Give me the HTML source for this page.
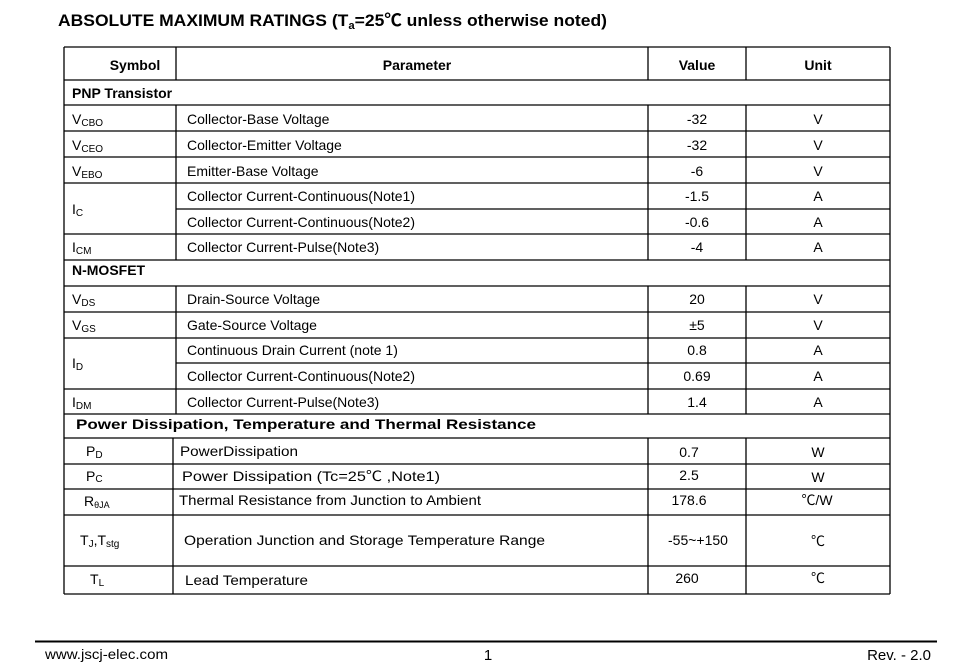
<!DOCTYPE html>
<html><head><meta charset="utf-8"><style>
html,body{margin:0;padding:0;background:#fff;width:968px;height:663px;overflow:hidden}
svg{display:block}
text{font-family:"Liberation Sans","Noto Sans CJK SC",sans-serif;fill:#000}
.b{font-weight:bold}
</style></head><body>
<svg width="968" height="663" viewBox="0 0 968 663" xmlns="http://www.w3.org/2000/svg">
<rect width="968" height="663" fill="#fff"/>
<text x="58" y="26" class="b" font-size="17" textLength="549" lengthAdjust="spacingAndGlyphs">ABSOLUTE MAXIMUM RATINGS (T<tspan font-size="11" dy="3">a</tspan><tspan dy="-3">=25℃ unless otherwise noted)</tspan></text>

<g stroke="#000" stroke-width="1.3" fill="none">
<line x1="64" y1="47" x2="890" y2="47"/>
<line x1="64" y1="47" x2="64" y2="594"/>
<line x1="890" y1="47" x2="890" y2="594"/>
<line x1="64" y1="80" x2="890" y2="80"/>
<line x1="64" y1="105" x2="890" y2="105"/>
<line x1="64" y1="131" x2="890" y2="131"/>
<line x1="64" y1="157" x2="890" y2="157"/>
<line x1="64" y1="183" x2="890" y2="183"/>
<line x1="176" y1="209" x2="890" y2="209"/>
<line x1="64" y1="234" x2="890" y2="234"/>
<line x1="64" y1="260" x2="890" y2="260"/>
<line x1="64" y1="286" x2="890" y2="286"/>
<line x1="64" y1="312" x2="890" y2="312"/>
<line x1="64" y1="338" x2="890" y2="338"/>
<line x1="176" y1="363" x2="890" y2="363"/>
<line x1="64" y1="389" x2="890" y2="389"/>
<line x1="64" y1="414" x2="890" y2="414"/>
<line x1="176" y1="47" x2="176" y2="80"/>
<line x1="648" y1="47" x2="648" y2="80"/>
<line x1="746" y1="47" x2="746" y2="80"/>
<line x1="176" y1="105" x2="176" y2="260"/>
<line x1="648" y1="105" x2="648" y2="260"/>
<line x1="746" y1="105" x2="746" y2="260"/>
<line x1="176" y1="286" x2="176" y2="414"/>
<line x1="648" y1="286" x2="648" y2="414"/>
<line x1="746" y1="286" x2="746" y2="414"/>
<line x1="64" y1="438" x2="890" y2="438"/>
<line x1="64" y1="464" x2="890" y2="464"/>
<line x1="64" y1="489" x2="890" y2="489"/>
<line x1="64" y1="515" x2="890" y2="515"/>
<line x1="64" y1="566" x2="890" y2="566"/>
<line x1="64" y1="594" x2="890" y2="594"/>
<line x1="173" y1="438" x2="173" y2="594"/>
<line x1="648" y1="438" x2="648" y2="594"/>
<line x1="746" y1="438" x2="746" y2="594"/>
</g>

<g font-size="14">
<text x="135" y="70" class="b" text-anchor="middle">Symbol</text>
<text x="417" y="70" class="b" text-anchor="middle">Parameter</text>
<text x="697" y="70" class="b" text-anchor="middle">Value</text>
<text x="818" y="70" class="b" text-anchor="middle">Unit</text>
<text x="72" y="98" class="b">PNP Transistor</text>
<text x="72" y="275" class="b">N-MOSFET</text>

<text x="72" y="124">V<tspan font-size="10" dy="2">CBO</tspan></text>
<text x="72" y="150">V<tspan font-size="10" dy="2">CEO</tspan></text>
<text x="72" y="176">V<tspan font-size="10" dy="2">EBO</tspan></text>
<text x="72" y="214">I<tspan font-size="10" dy="2">C</tspan></text>
<text x="72" y="252">I<tspan font-size="10" dy="2">CM</tspan></text>
<text x="72" y="304">V<tspan font-size="10" dy="2">DS</tspan></text>
<text x="72" y="330">V<tspan font-size="10" dy="2">GS</tspan></text>
<text x="72" y="368">I<tspan font-size="10" dy="2">D</tspan></text>
<text x="72" y="407">I<tspan font-size="10" dy="2">DM</tspan></text>

<text x="187" y="124">Collector-Base Voltage</text>
<text x="187" y="150">Collector-Emitter Voltage</text>
<text x="187" y="176">Emitter-Base Voltage</text>
<text x="187" y="201">Collector Current-Continuous(Note1)</text>
<text x="187" y="227">Collector Current-Continuous(Note2)</text>
<text x="187" y="252">Collector Current-Pulse(Note3)</text>
<text x="187" y="304">Drain-Source Voltage</text>
<text x="187" y="330">Gate-Source Voltage</text>
<text x="187" y="355">Continuous Drain Current (note 1)</text>
<text x="187" y="381">Collector Current-Continuous(Note2)</text>
<text x="187" y="407">Collector Current-Pulse(Note3)</text>

<g text-anchor="middle">
<text x="697" y="124">-32</text><text x="818" y="124">V</text>
<text x="697" y="150">-32</text><text x="818" y="150">V</text>
<text x="697" y="176">-6</text><text x="818" y="176">V</text>
<text x="697" y="201">-1.5</text><text x="818" y="201">A</text>
<text x="697" y="227">-0.6</text><text x="818" y="227">A</text>
<text x="697" y="252">-4</text><text x="818" y="252">A</text>
<text x="697" y="304">20</text><text x="818" y="304">V</text>
<text x="697" y="330">±5</text><text x="818" y="330">V</text>
<text x="697" y="355">0.8</text><text x="818" y="355">A</text>
<text x="697" y="381">0.69</text><text x="818" y="381">A</text>
<text x="697" y="407">1.4</text><text x="818" y="407">A</text>
</g>
</g>

<text x="76" y="429" class="b" font-size="14" textLength="460" lengthAdjust="spacingAndGlyphs">Power Dissipation, Temperature and Thermal Resistance</text>

<g font-size="14">
<text x="86" y="456">P<tspan font-size="10" dy="2">D</tspan></text>
<text x="86" y="481">P<tspan font-size="10" dy="1">C</tspan></text>
<text x="84" y="506">R<tspan font-size="9" dy="2">θJA</tspan></text>
<text x="80" y="545">T<tspan font-size="10" dy="2">J</tspan><tspan dy="-2">,T</tspan><tspan font-size="10" dy="2">stg</tspan></text>
<text x="90" y="584">T<tspan font-size="10" dy="2">L</tspan></text>

<text x="180" y="456" textLength="118" lengthAdjust="spacingAndGlyphs">PowerDissipation</text>
<text x="182" y="481" textLength="258" lengthAdjust="spacingAndGlyphs">Power Dissipation (Tc=25℃  ,Note1)</text>
<text x="179" y="505" textLength="302" lengthAdjust="spacingAndGlyphs">Thermal Resistance from Junction to Ambient</text>
<text x="184" y="545" textLength="361" lengthAdjust="spacingAndGlyphs">Operation Junction  and Storage Temperature Range</text>
<text x="185" y="585" textLength="123" lengthAdjust="spacingAndGlyphs">Lead Temperature</text>

<g text-anchor="middle">
<text x="689" y="457">0.7</text><text x="818" y="457">W</text>
<text x="689" y="480">2.5</text><text x="818" y="482">W</text>
<text x="689" y="505">178.6</text><text x="817" y="505">℃/W</text>
<text x="698" y="545">-55~+150</text><text x="818" y="546">℃</text>
<text x="687" y="583">260</text><text x="818" y="583">℃</text>
</g>
</g>

<line x1="35" y1="641.5" x2="937" y2="641.5" stroke="#000" stroke-width="2"/>
<text x="45" y="659" font-size="14" textLength="123" lengthAdjust="spacingAndGlyphs">www.jscj-elec.com</text>
<text x="488" y="660" font-size="15" text-anchor="middle">1</text>
<text x="931" y="660" font-size="15" text-anchor="end">Rev. - 2.0</text>
</svg>
</body></html>
